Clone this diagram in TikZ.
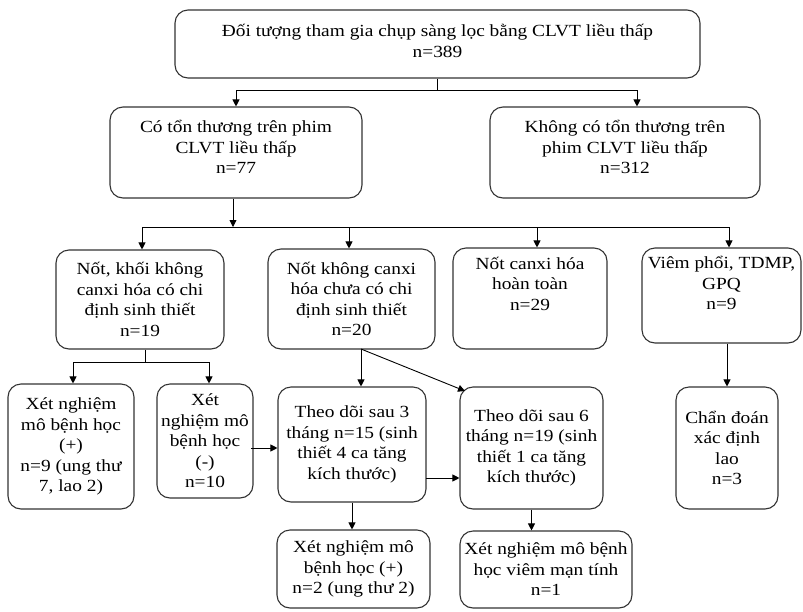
\documentclass[tikz,border=0pt]{standalone}
\usepackage{fontspec}
\setmainfont[FakeStretch=1.14]{Liberation Serif}
\usetikzlibrary{arrows.meta}
\begin{document}
\begin{tikzpicture}[x=1pt,y=-1pt,
  box/.style={draw=black!80, line width=1.1pt, rounded corners=13pt, inner sep=0pt,
    align=center, font=\fontsize{17}{20.5}\selectfont},
  ln/.style={draw=black, line width=0.9pt},
  arr/.style={ln, -{Triangle[length=7pt,width=7pt]}}]
\useasboundingbox (0,0) rectangle (803,611);

% level 0
\node[box, minimum width=525pt, minimum height=68pt] (top) at (437.5,44)
  {Đối tượng tham gia chụp sàng lọc bằng CLVT liều thấp\\n=389\\[-14pt]\mbox{}};

% level 1
\node[box, minimum width=252pt, minimum height=91pt] (co) at (236,152.5)
  {Có tổn thương trên phim\\CLVT liều thấp\\n=77\\[-10pt]\mbox{}};
\node[box, minimum width=270pt, minimum height=91pt] (khong) at (625,152.5)
  {Không có tổn thương trên\\phim CLVT liều thấp\\n=312\\[-10pt]\mbox{}};

% level 2
\node[box, minimum width=168pt, minimum height=99pt] (b1) at (140,299.5)
  {Nốt, khối không\\canxi hóa có chi\\định sinh thiết\\n=19};
\node[box, minimum width=167pt, minimum height=100pt] (b2) at (351.5,299)
  {Nốt không canxi\\hóa chưa có chi\\định sinh thiết\\n=20};
\node[box, minimum width=154pt, minimum height=101pt] (b3) at (530,298.5)
  {Nốt canxi hóa\\hoàn toàn\\n=29\\[9pt]~};
\node[box, minimum width=159pt, minimum height=95pt] (b4) at (721.5,295.5)
  {Viêm phổi, TDMP,\\GPQ\\n=9\\[4pt]~};

% level 3
\node[box, minimum width=126pt, minimum height=125pt] (pa) at (71,446.5)
  {Xét nghiệm\\mô bệnh học\\(+)\\n=9 (ung thư\\7, lao 2)};
\node[box, minimum width=96pt, minimum height=114pt] (pb) at (205,441)
  {Xét\\nghiệm mô\\bệnh học\\(-)\\n=10};
\node[box, minimum width=148pt, minimum height=115pt] (f3) at (352,444.5)
  {Theo dõi sau 3\\tháng n=15 (sinh\\thiết 4 ca tăng\\kích thước)};
\node[box, minimum width=143pt, minimum height=122pt] (f6) at (531.5,448)
  {Theo dõi sau 6\\tháng n=19 (sinh\\thiết 1 ca tăng\\kích thước)};
\node[box, minimum width=102pt, minimum height=122pt] (lao) at (727,448)
  {Chẩn đoán\\xác định\\lao\\n=3};

% level 4
\node[box, minimum width=153pt, minimum height=78pt] (p2) at (353.5,569)
  {Xét nghiệm mô\\bệnh học (+)\\n=2 (ung thư 2)};
\node[box, minimum width=172pt, minimum height=77pt] (vm) at (546,569.5)
  {Xét nghiệm mô bệnh\\học viêm mạn tính\\n=1};

% split below the screening box
\coordinate (j0) at (437.5,90);
\coordinate (j0r) at (637,90);
\draw[ln] (top.south) -- (j0);
\draw[arr] (j0) -| (co.north);
\draw[arr] (j0) -- (j0r) -- (j0r |- khong.north);

% bus feeding the four lesion groups
\coordinate (h2) at (233,227);
\coordinate (bL) at (142,227);
\coordinate (bR) at (729,227);
\coordinate (d2) at (349,227);
\coordinate (d3) at (537,227);
\draw[arr] (co.south -| h2) -- (h2);
\draw[ln] (bL) -- (bR);
\draw[arr] (bL) -- (bL |- b1.north);
\draw[arr] (d2) -- (d2 |- b2.north);
\draw[arr] (d3) -- (d3 |- b3.north);
\draw[arr] (bR) -- (bR |- b4.north);

% biopsy results
\coordinate (s1) at (145,362);
\coordinate (sL) at (73,362);
\coordinate (sR) at (209,362);
\draw[ln] (s1 |- b1.south) -- (s1);
\draw[ln] (sL) -- (sR);
\draw[arr] (sL) -- (sL |- pa.north);
\draw[arr] (sR) -- (sR |- pb.north);

% follow-up branches
\coordinate (o2) at (361,349);
\coordinate (f6c) at (465,391);
\draw[arr] (o2) -- (o2 |- f3.north);
\draw[arr] (o2) -- (f6c);
\coordinate (pbo) at (251,448);
\draw[arr] (pbo) -- (pbo -| f3.west);
\coordinate (f3o) at (426,478);
\draw[arr] (f3o) -- (f3o -| f6.west);
\draw[arr] (f3.south) -- (f3.south |- p2.north);
\draw[arr] (f6.south) -- (f6.south |- vm.north);
\draw[arr] (lao.north |- b4.south) -- (lao.north);
\end{tikzpicture}
\end{document}
